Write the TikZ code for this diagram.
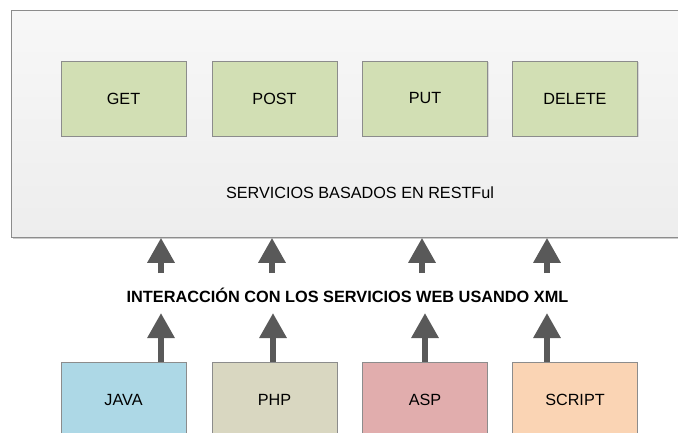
\documentclass[tikz,border=0pt]{standalone}
\usepackage{fontspec}
\setmainfont{Liberation Sans}
\usetikzlibrary{arrows.meta,shadows}
\definecolor{boxgreen}{HTML}{D2DFB4}
\definecolor{javac}{HTML}{ADD8E6}
\definecolor{phpc}{HTML}{D9D7C1}
\definecolor{aspc}{HTML}{E1ADAD}
\definecolor{scriptc}{HTML}{FAD4B4}
\definecolor{bordc}{HTML}{8C8C8C}
\definecolor{arrc}{HTML}{595959}
\tikzset{
  method/.style={draw=bordc, line width=0.8pt, fill=boxgreen, minimum width=125pt, minimum height=75pt,
    inner sep=0pt, font=\fontsize{16.2}{19}\selectfont, drop shadow={shadow xshift=1.2pt, shadow yshift=-1.2pt, opacity=0.25}},
  lang/.style={draw=bordc, line width=0.8pt, minimum width=125pt, minimum height=76pt, anchor=north,
    inner sep=0pt, font=\fontsize{16.2}{19}\selectfont},
  bigarrow/.style={draw=arrc, line width=6pt, -{Triangle[width=26pt,length=25pt]}}
}
\begin{document}
\begin{tikzpicture}[x=1pt,y=-1pt]
\useasboundingbox (0,0) rectangle (678,433);
\clip (0,0) rectangle (678,433);
\fill[black!20] (13,12) rectangle (682,239);
\node[draw=bordc, line width=0.8pt, top color=white!97!black, bottom color=white!93!black,
  minimum width=671pt, minimum height=227pt, anchor=north west, inner sep=0pt] (main) at (11,10) {};
\node[method] (get) at (123.5,98.5) {GET};
\node[method] (post) at (274.5,98.5) {POST};
\node[method] (put) at (425,98.5) {PUT};
\node[method] (delete) at (575,98.5) {DELETE};
\node[font=\fontsize{16.2}{19}\selectfont] (rest) at (360,193) {SERVICIOS BASADOS EN RESTFul};
\node[font=\bfseries\fontsize{16.3}{19}\selectfont, inner sep=0pt] (inter) at (347.5,295)
  {INTERACCIÓN CON LOS SERVICIOS WEB USANDO XML};
\node[lang, fill=javac] (java) at (123.5,362) {JAVA};
\node[lang, fill=phpc] (php) at (274.5,362) {PHP};
\node[lang, fill=aspc] (asp) at (425,362) {ASP};
\node[lang, fill=scriptc] (script) at (575,362) {SCRIPT};
% coordinates for arrow ends
\coordinate (u1) at (161,273); \coordinate (u2) at (272,273);
\coordinate (u3) at (422,273); \coordinate (u4) at (547,273);
\coordinate (l1) at (161,313); \coordinate (l2) at (273,313);
\coordinate (l3) at (425,313); \coordinate (l4) at (547,313);
\draw[bigarrow] (u1) -- (u1 |- main.south);
\draw[bigarrow] (u2) -- (u2 |- main.south);
\draw[bigarrow] (u3) -- (u3 |- main.south);
\draw[bigarrow] (u4) -- (u4 |- main.south);
\draw[bigarrow] (l1 |- java.north) -- (l1);
\draw[bigarrow] (l2 |- php.north) -- (l2);
\draw[bigarrow] (l3 |- asp.north) -- (l3);
\draw[bigarrow] (l4 |- script.north) -- (l4);
\end{tikzpicture}
\end{document}
